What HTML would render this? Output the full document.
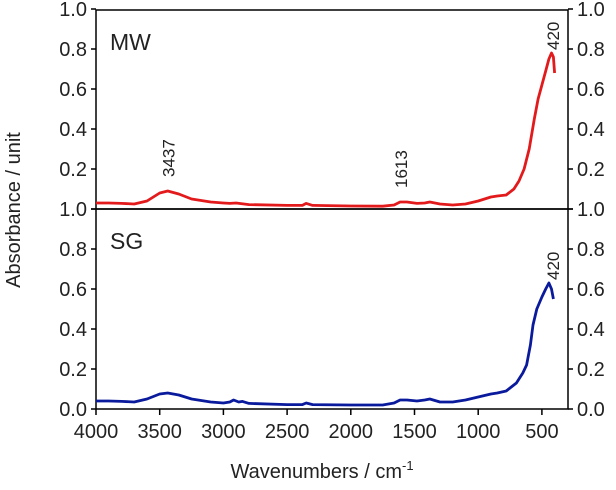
<!DOCTYPE html>
<html><head><meta charset="utf-8"><style>
body{margin:0;background:#fff}
svg text{font-family:"Liberation Sans",sans-serif;fill:#222}
</style></head><body>
<svg width="616" height="485">
<g id="axes"></g><g id="marks"></g>
</svg>
<script>
const xTicks=[4000,3500,3000,2500,2000,1500,1000,500];
const yTicks=[0,0.2,0.4,0.6,0.8,1.0];
const yTickLabels=["0.0","0.2","0.4","0.6","0.8","1.0"];
const mwWave=[4000,3900,3800,3700,3600,3500,3437,3350,3250,3100,3000,2950,2900,2800,2500,2380,2350,2300,2000,1750,1660,1613,1560,1480,1420,1380,1300,1200,1100,1000,900,850,780,720,680,640,600,560,530,500,470,445,425,410,400];
const mwAbs=[0.03,0.03,0.028,0.025,0.04,0.08,0.09,0.075,0.05,0.035,0.03,0.028,0.03,0.022,0.018,0.018,0.028,0.018,0.015,0.014,0.02,0.035,0.035,0.028,0.03,0.035,0.025,0.02,0.025,0.04,0.06,0.065,0.07,0.1,0.14,0.2,0.3,0.45,0.55,0.62,0.69,0.75,0.78,0.76,0.68];
const sgWave=[4000,3900,3800,3700,3600,3500,3437,3350,3250,3100,3000,2950,2920,2880,2850,2800,2500,2380,2350,2300,2000,1750,1660,1613,1560,1480,1420,1380,1300,1200,1100,1000,900,850,780,700,650,620,590,570,540,500,470,445,425,410];
const sgAbs=[0.04,0.04,0.038,0.035,0.05,0.075,0.08,0.07,0.05,0.035,0.03,0.035,0.045,0.035,0.038,0.028,0.022,0.022,0.03,0.022,0.02,0.02,0.03,0.045,0.045,0.04,0.045,0.05,0.035,0.035,0.045,0.06,0.075,0.08,0.09,0.13,0.18,0.22,0.32,0.42,0.5,0.56,0.6,0.63,0.6,0.55];
const NS="http://www.w3.org/2000/svg";
const X0=96,X1=568,XS=0.1274;
const xs=w=>X0+(4000-w)*XS;
const panels=[{top:10,bot:209,name:"MW",color:"#e31a1c",w:mwWave,a:mwAbs,ann:[[3437,"3437"],[1613,"1613"],[420,"420"]]},
{top:209,bot:409,name:"SG",color:"#0a1a9c",w:sgWave,a:sgAbs,ann:[[420,"420"]]}];
const ax=document.getElementById('axes'),mk=document.getElementById('marks');
function el(t,at,p,txt){const e=document.createElementNS(NS,t);for(const k in at)e.setAttribute(k,at[k]);if(txt!==undefined)e.textContent=txt;p.appendChild(e);return e;}
panels.forEach((p,i)=>{
 const r=el('rect',{x:X0,y:p.top,width:X1-X0,height:p.bot-p.top,fill:'none',stroke:'#000','stroke-width':1.5},ax);
 
 yTicks.forEach((v,j)=>{
  const y=p.bot-v*200;
  el('line',{x1:X0-5,x2:X0,y1:y,y2:y,stroke:'#000','stroke-width':1.5},ax);
  el('line',{x1:X1,x2:X1+5,y1:y,y2:y,stroke:'#000','stroke-width':1.5},ax);
  const lab=(i===0&&j===0)?"1.0":yTickLabels[j];
  if(i===1&&j===5)return;
  const t1=el('text',{x:X0-9,y:y+7,'text-anchor':'end','font-size':20},ax,lab);
  
  const t2=el('text',{x:X1+9,y:y+7,'text-anchor':'start','font-size':20},ax,lab);
  
 });
 const lbl=el('text',{x:110,y:p.top+40,'font-size':23},ax,p.name);
 
 const d=p.w.map((w,k)=>(k?'L':'M')+xs(w).toFixed(1)+','+(p.bot-p.a[k]*200).toFixed(1)).join('');
 const path=el('path',{d:d,fill:'none',stroke:p.color,'stroke-width':2.8,'stroke-linejoin':'round'},mk);
 
 p.ann.forEach(([w,s])=>{
  let k=p.w.indexOf(w);let v=k>=0?p.a[k]:0.78;
  let gap=14;
  if(w===420){v=Math.max(...p.a);gap=3;}
  const x=xs(w)+7,y=p.bot-v*200-gap;
  const t=el('text',{x:x,y:y,'font-size':17,transform:`rotate(-90 ${x} ${y})`},mk,s);
  
 });
});
xTicks.forEach(w=>{
 const x=xs(w);
 el('line',{x1:x,x2:x,y1:409,y2:415,stroke:'#000','stroke-width':1.5},ax);
 const t=el('text',{x:x,y:438,'text-anchor':'middle','font-size':20},ax,w);
 
});
const xl=el('text',{x:322,y:478,'text-anchor':'middle','font-size':20},ax,'Wavenumbers / cm');

const sup=document.createElementNS(NS,'tspan');sup.setAttribute('dy','-8');sup.setAttribute('font-size','13');sup.textContent='-1';xl.appendChild(sup);
const yl=el('text',{x:20,y:210,'text-anchor':'middle','font-size':20,transform:'rotate(-90 20 210)'},ax,'Absorbance / unit');

</script>
</body></html>
